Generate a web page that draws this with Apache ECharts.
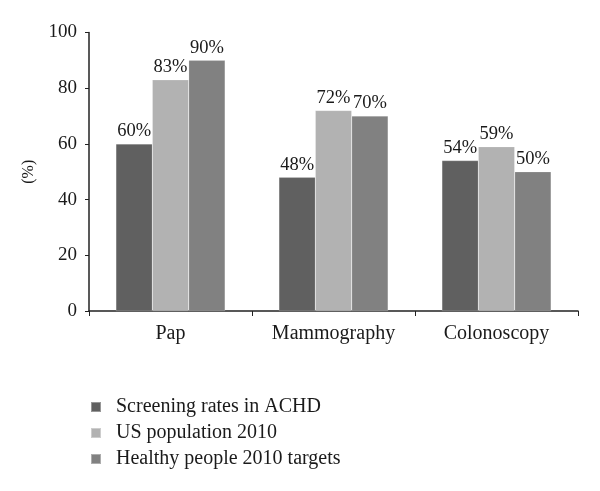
<!DOCTYPE html>
<html>
<head>
<meta charset="utf-8">
<script src="https://cdn.jsdelivr.net/npm/echarts@6/dist/echarts.min.js"></script>
<style>html,body{margin:0;padding:0;background:#fff;}#c{width:600px;height:491px;}</style>
</head>
<body>
<div id="c"></div>
<script>
const categories = ['Pap', 'Mammography', 'Colonoscopy'];
const seriesNames = ['Screening rates in ACHD', 'US population 2010', 'Healthy people 2010 targets'];
const achd = [60, 48, 54];
const usPop = [83, 72, 59];
const targets = [90, 70, 50];
const yTicks = [0, 20, 40, 60, 80, 100];
const colors = ['#606060', '#b2b2b2', '#818181'];

const FONT = 'Liberation Serif';
const chart = echarts.init(document.getElementById('c'), null, {renderer: 'canvas'});
function mk(name, data, color) {
  return {
    name: name, type: 'bar', data: data, barGap: '0%', barCategoryGap: '33%',
    itemStyle: {color: color, borderColor: 'rgba(255,255,255,0.35)', borderWidth: 0.5},
    label: {show: true, position: 'top', distance: 3, formatter: '{c}%', color: '#1a1a1a', fontFamily: FONT, fontSize: 18.5}
  };
}
chart.setOption({
  animation: false,
  textStyle: {fontFamily: FONT},
  grid: {left: 89, right: 22, top: 32.5, bottom: 180, containLabel: false},
  legend: {
    orient: 'vertical', left: 85, top: 392, itemWidth: 10, itemHeight: 10, itemGap: 6,
    icon: 'rect', data: seriesNames,
    textStyle: {fontFamily: FONT, fontSize: 20, color: '#1a1a1a', padding: [0,0,0,10]}
  },
  xAxis: {
    type: 'category', data: categories,
    axisLine: {lineStyle: {color: '#222', width: 1.5}},
    axisTick: {show: true, length: 5, lineStyle: {color: '#222'}},
    axisLabel: {fontFamily: FONT, fontSize: 20, color: '#1a1a1a', margin: 13}
  },
  yAxis: {
    type: 'value', min: yTicks[0], max: yTicks[yTicks.length-1], interval: 20,
    name: '(%)', nameLocation: 'middle', nameGap: 52, nameRotate: 90,
    nameTextStyle: {fontFamily: FONT, fontSize: 16, color: '#1a1a1a'},
    splitLine: {show: false},
    axisLine: {show: true, lineStyle: {color: '#222', width: 1.5}},
    axisTick: {show: true, length: 4, lineStyle: {color: '#222'}},
    axisLabel: {fontFamily: FONT, fontSize: 19, color: '#1a1a1a', margin: 12}
  },
  series: [mk(seriesNames[0], achd, colors[0]), mk(seriesNames[1], usPop, colors[1]), mk(seriesNames[2], targets, colors[2])]
});
</script>
</body>
</html>
